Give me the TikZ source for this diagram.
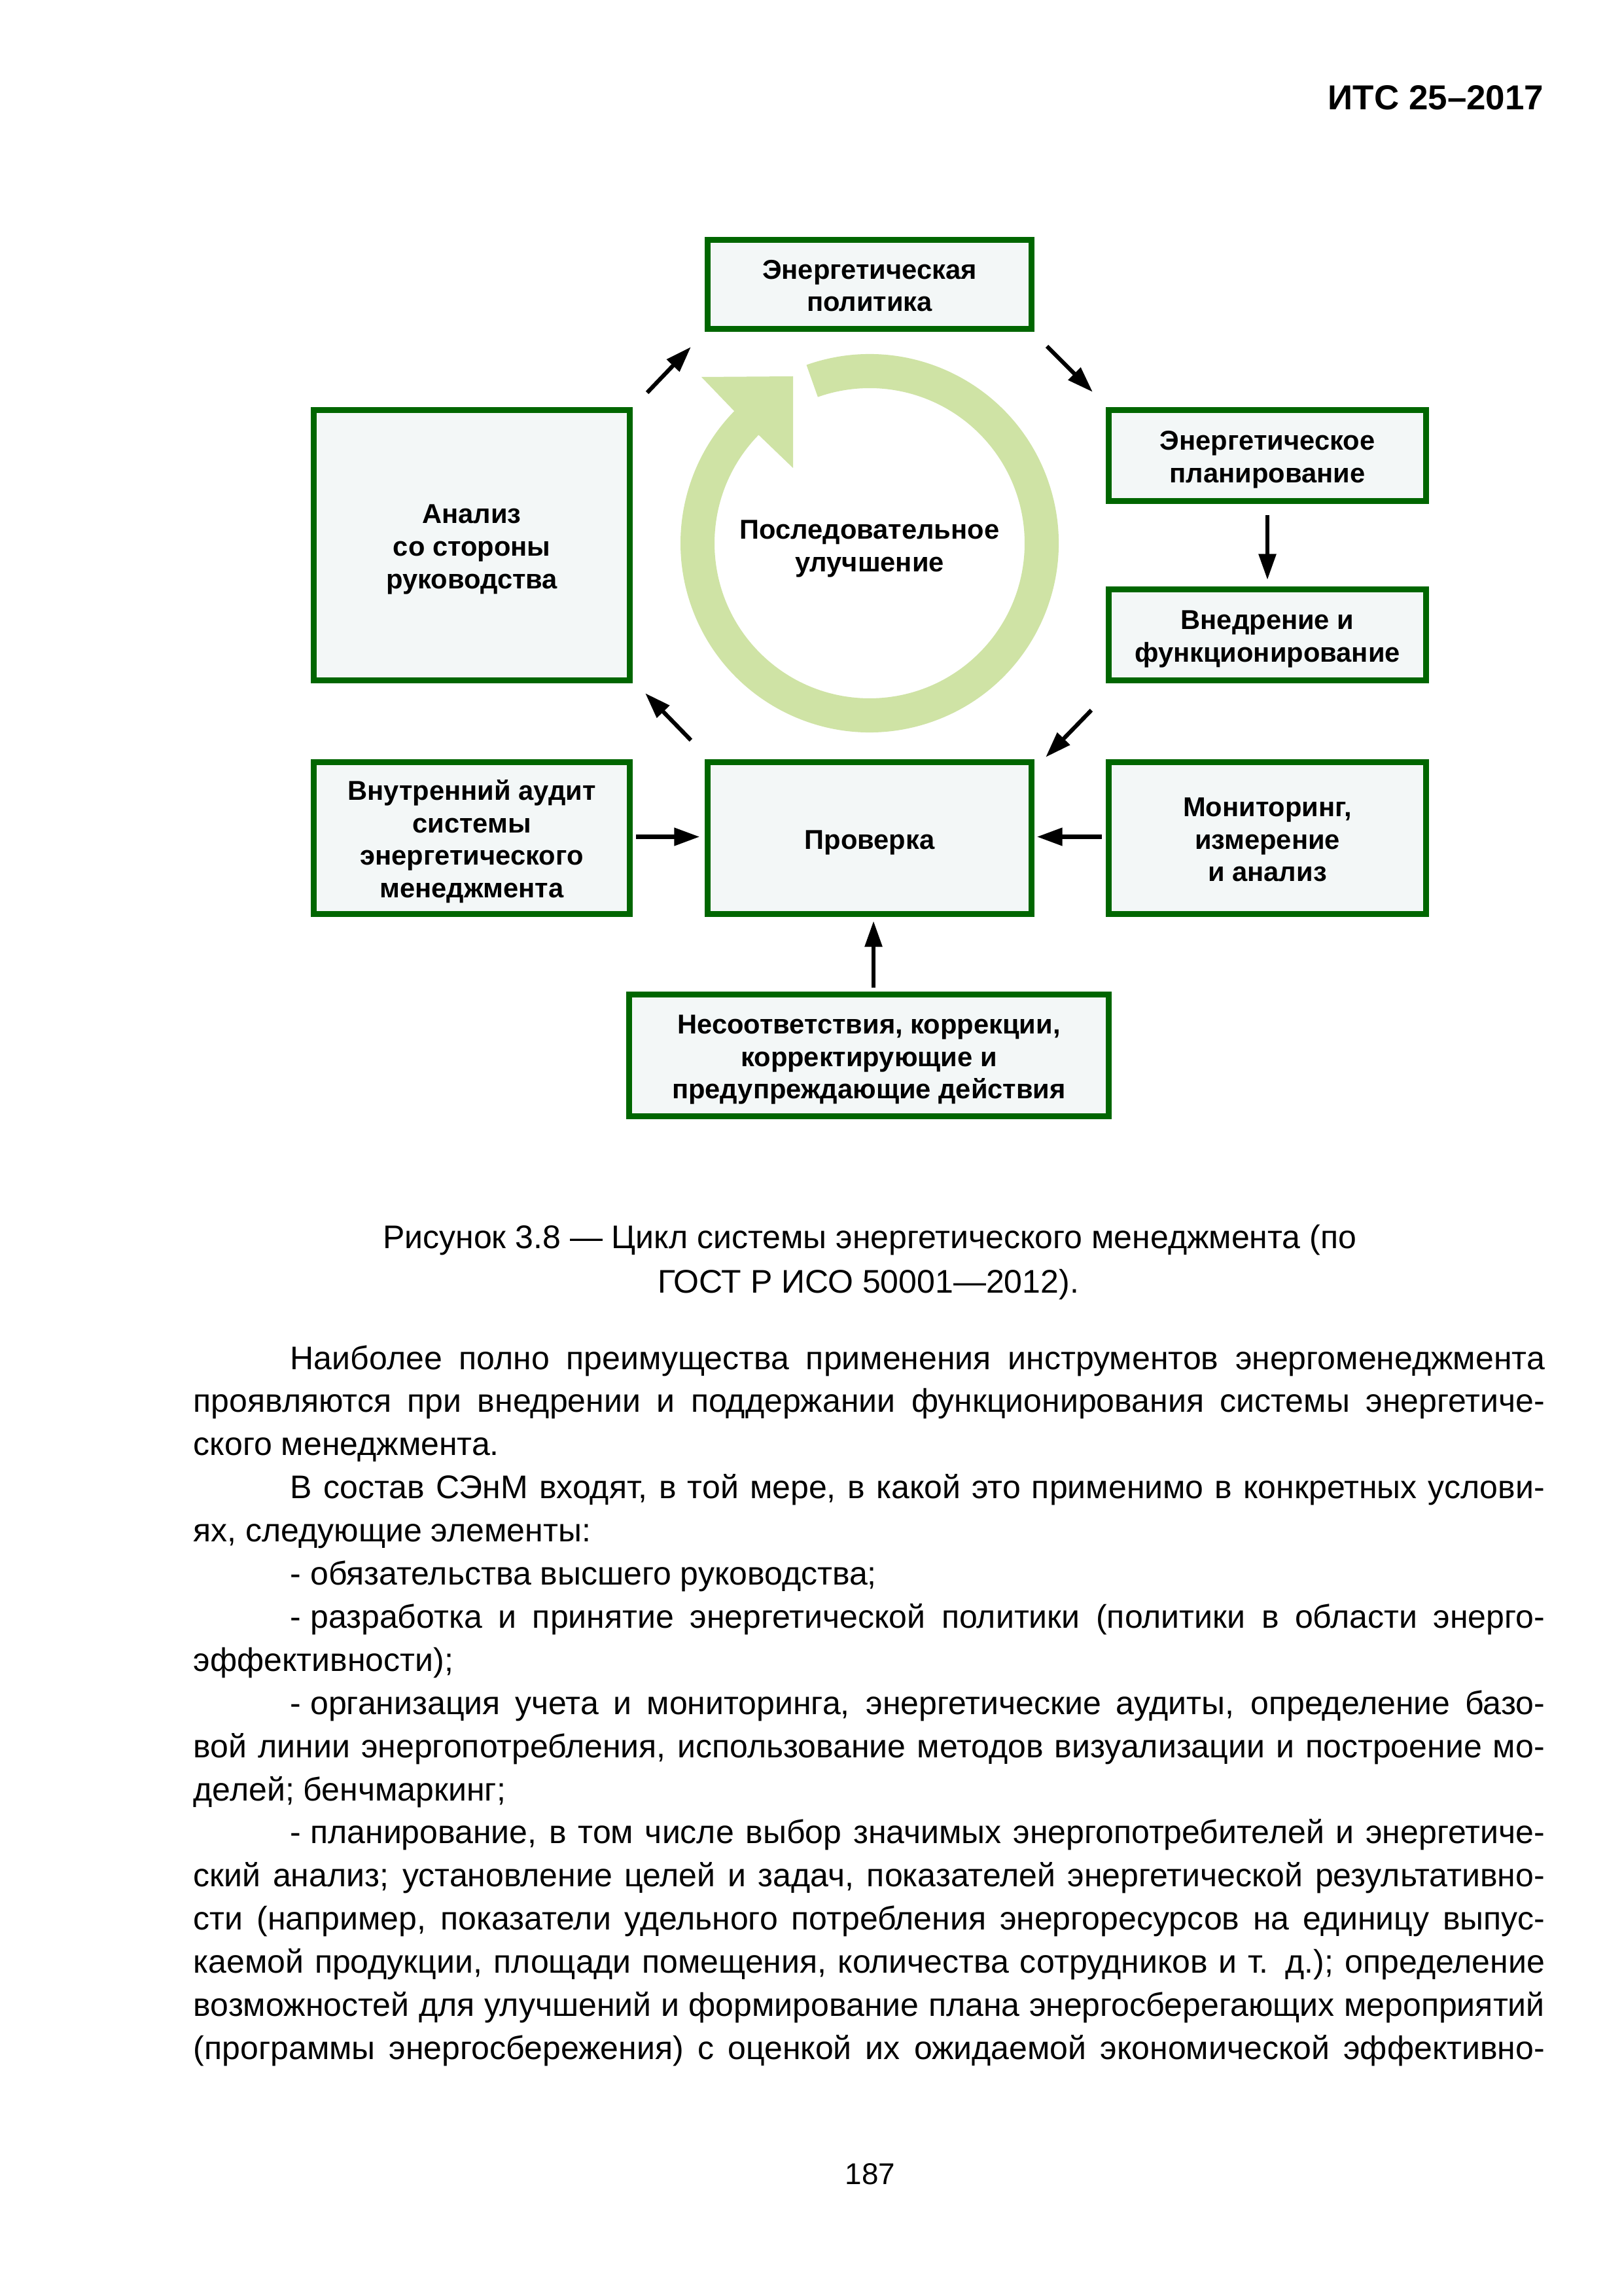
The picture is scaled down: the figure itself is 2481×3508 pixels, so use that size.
\documentclass[tikz,border=0pt]{standalone}
\usepackage{fontspec}
\setmainfont{Liberation Sans}
\usetikzlibrary{arrows.meta}
\definecolor{boxgreen}{RGB}{0,102,0}
\definecolor{boxfill}{RGB}{243,247,247}
\definecolor{ringgreen}{RGB}{207,227,165}
\newcommand{\fulljust}[1]{\makebox[495.6pt][s]{#1}}
\newcommand{\indjust}[1]{\makebox[460.08pt][s]{#1}}
\newcommand{\dashsp}{-\kern0.278em}
\newcommand{\boxtxt}[1]{\raisebox{-1.6pt}[\height][\depth]{\begin{tabular}{@{}c@{}}#1\end{tabular}}}
\begin{document}
\begin{tikzpicture}[x=0.24pt,y=-0.24pt,
  box/.style={draw=boxgreen, line width=2.2pt, fill=boxfill, align=center, inner sep=0pt,
    font=\bfseries\fontsize{10}{11.9}\selectfont},
  arr/.style={-{Triangle[length=9.5pt,width=6.2pt]}, line width=1.5pt},
  harr/.style={arr, line width=1.9pt},
  body/.style={anchor=base west, inner sep=0pt, font=\fontsize{12}{15.8}\selectfont},
  capt/.style={anchor=base, inner sep=0pt, font=\fontsize{12}{15.8}\selectfont}]
\useasboundingbox (0,0) rectangle (2481,3508);
\fill[white] (0,0) rectangle (2481,3508);

% header
\node[anchor=base east, inner sep=0pt, font=\bfseries\fontsize{12.7}{15}\selectfont] (hdr) at (2360,168) {ИТС 25–2017};

% ring arrow
\fill[ringgreen] ([shift={(-109.5:289)}]1329,830) arc[start angle=-109.5, end angle=224.3, radius=289]
  -- (1072,576) -- (1212,575) -- (1212,715)
  -- ([shift={(224.3:237)}]1329,830) arc[start angle=224.3, end angle=-109.5, radius=237] -- cycle;
\node[align=center, inner sep=0pt, font=\bfseries\fontsize{10}{11.9}\selectfont] (ci) at (1329,838.5) {Последовательное\\улучшение};

% boxes
\node[box, minimum width=118.8pt, minimum height=32.64pt] (policy) at (1329,434.5) {\boxtxt{Энергетическая\\политика}};
\node[box, minimum width=116.4pt, minimum height=33.36pt] (plan) at (1937,696) {\boxtxt{Энергетическое\\планирование}};
\node[box, minimum width=116.4pt, minimum height=33.36pt] (impl) at (1937,970) {\boxtxt{Внедрение и\\функционирование}};
\node[box, minimum width=115.92pt, minimum height=99.12pt] (review) at (721,833) {\boxtxt{Анализ\\со стороны\\руководства}};
\node[box, minimum width=115.92pt, minimum height=55.68pt] (audit) at (721,1280.5) {\boxtxt{Внутренний аудит\\системы\\энергетического\\менеджмента}};
\node[box, minimum width=118.8pt, minimum height=55.68pt] (check) at (1329,1280.5) {\boxtxt{Проверка}};
\node[box, minimum width=116.4pt, minimum height=55.68pt] (mon) at (1937,1280.5) {\boxtxt{Мониторинг,\\измерение\\и анализ}};
\node[box, minimum width=175.92pt, minimum height=44.64pt] (nc) at (1328,1612.5) {\boxtxt{Несоответствия, коррекции,\\корректирующие и\\предупреждающие действия}};

% connectors
\draw[arr] ([shift={(22,-22)}]review.north east) -- ([shift={(-21,23)}]policy.south west);
\draw[arr] ([shift={(19,22)}]policy.south east) -- ([shift={(-20,-23)}]plan.north west);
\draw[arr] ([shift={(0,17)}]plan.south) -- ([shift={(0,-10)}]impl.north);
\draw[arr] ([shift={(-22,41)}]impl.south west) -- ([shift={(17,-3)}]check.north east);
\draw[arr] ([shift={(-21,-29)}]check.north west) -- ([shift={(19,15)}]review.south east);
\draw[harr] ([shift={(5,-2)}]audit.east) -- ([shift={(-7,-2)}]check.west);
\draw[harr] ([shift={(-6,-2)}]mon.west) -- ([shift={(3,-2)}]check.east);
\draw[arr] ([shift={(7,-6)}]nc.north) -- ([shift={(6,6)}]check.south);

% caption
\node[capt] (cap1) at (1329,1907) {Рисунок 3.8 — Цикл системы энергетического менеджмента (по};
\node[capt] (cap2) at (1327,1975) {ГОСТ Р ИСО 50001—2012).};

% body text
\node[body] (l0) at (443,2092) {\indjust{Наиболее полно преимущества применения инструментов энергоменеджмента}};
\node[body] (l1) at (295,2157.9) {\fulljust{проявляются при внедрении и поддержании функционирования системы энергетиче-}};
\node[body] (l2) at (295,2223.8) {ского менеджмента.};
\node[body] (l3) at (443,2289.7) {\indjust{В состав СЭнМ входят, в той мере, в какой это применимо в конкретных услови-}};
\node[body] (l4) at (295,2355.6) {ях, следующие элементы:};
\node[body] (l5) at (443,2421.5) {- обязательства высшего руководства;};
\node[body] (l6) at (443,2487.4) {\indjust{\dashsp разработка и принятие энергетической политики (политики в области энерго-}};
\node[body] (l7) at (295,2553.3) {эффективности);};
\node[body] (l8) at (443,2619.2) {\indjust{\dashsp организация учета и мониторинга, энергетические аудиты, определение базо-}};
\node[body] (l9) at (295,2685.1) {\fulljust{вой линии энергопотребления, использование методов визуализации и построение мо-}};
\node[body] (l10) at (295,2751) {делей; бенчмаркинг;};
\node[body] (l11) at (443,2816.9) {\indjust{\dashsp планирование, в том числе выбор значимых энергопотребителей и энергетиче-}};
\node[body] (l12) at (295,2882.8) {\fulljust{ский анализ; установление целей и задач, показателей энергетической результативно-}};
\node[body] (l13) at (295,2948.7) {\fulljust{сти (например, показатели удельного потребления энергоресурсов на единицу выпус-}};
\node[body] (l14) at (295,3014.6) {\fulljust{каемой продукции, площади помещения, количества сотрудников и т. д.); определение}};
\node[body] (l15) at (295,3080.5) {\fulljust{возможностей для улучшений и формирование плана энергосберегающих мероприятий}};
\node[body] (l16) at (295,3146.4) {\fulljust{(программы энергосбережения) с оценкой их ожидаемой экономической эффективно-}};

% page number
\node[anchor=base, inner sep=0pt, font=\fontsize{11}{13}\selectfont] (pg) at (1330,3337) {187};
\end{tikzpicture}
\end{document}
